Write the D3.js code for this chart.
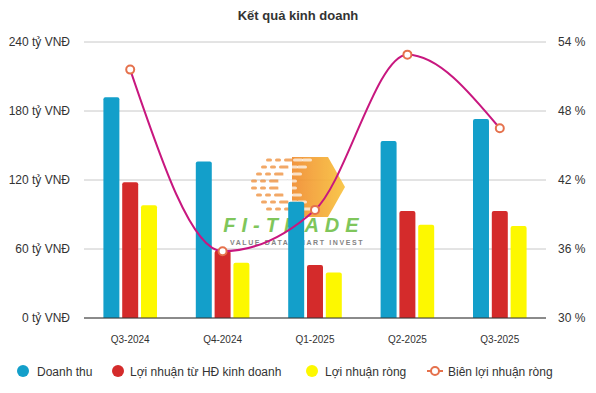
<!DOCTYPE html>
<html>
<head>
<meta charset="utf-8">
<script src="https://cdn.jsdelivr.net/npm/d3@7"></script>
<style>
  html, body { margin: 0; padding: 0; background: #fff; }
  svg { display: block; font-family: "Liberation Sans", Arial, sans-serif; }
</style>
</head>
<body>
<div id="chart"></div>
<script>
// chart data
const quarters = ["Q3-2024", "Q4-2024", "Q1-2025", "Q2-2025", "Q3-2025"];
const doanhThu = [192, 136, 101, 154, 173];
const loiNhuanHDKD = [118, 58.5, 46, 93, 93];
const loiNhuanRong = [98, 48, 39.5, 81, 80];
const bienLoiNhuan = [51.6, 35.8, 39.4, 52.9, 46.5];
const leftTicks = [0, 60, 120, 180, 240];
const rightTicks = [30, 36, 42, 48, 54];

const W = 596, H = 393;
const margin = { top: 42, right: 50, bottom: 75, left: 84 };
const plotW = W - margin.left - margin.right;
const plotH = H - margin.top - margin.bottom;

const svg = d3.select('#chart').append('svg')
  .attr('width', W).attr('height', H);

svg.append('text')
  .attr('x', W / 2).attr('y', 20)
  .attr('text-anchor', 'middle')
  .attr('font-size', 13).attr('font-weight', 'bold')
  .attr('fill', '#333')
  .text('Kết quả kinh doanh');

const g = svg.append('g').attr('transform', `translate(${margin.left},${margin.top})`);

const x = d3.scaleBand().domain(quarters).range([0, plotW]).paddingInner(0.42).paddingOuter(0.21);
const yL = d3.scaleLinear().domain([0, 240]).range([plotH, 0]);
const yR = d3.scaleLinear().domain([30, 54]).range([plotH, 0]);

// grid lines
g.append('g').selectAll('line').data(leftTicks).enter().append('line')
  .attr('x1', 0).attr('x2', plotW)
  .attr('y1', d => yL(d)).attr('y2', d => yL(d))
  .attr('stroke', '#c8c8c8').attr('stroke-width', 1);

// left axis
const axL = g.append('g').call(d3.axisLeft(yL).tickValues(leftTicks).tickSize(0).tickPadding(14)
  .tickFormat(d => d + ' tỷ VNĐ'));
axL.select('.domain').remove();
axL.selectAll('text').attr('font-size', 12).attr('fill', '#333')
  .attr('font-family', '"Liberation Sans", Arial, sans-serif');

// right axis
const axR = g.append('g').attr('transform', `translate(${plotW},0)`)
  .call(d3.axisRight(yR).tickValues(rightTicks).tickSize(0).tickPadding(12)
  .tickFormat(d => d + ' %'));
axR.select('.domain').remove();
axR.selectAll('text').attr('font-size', 12).attr('fill', '#333')
  .attr('font-family', '"Liberation Sans", Arial, sans-serif');

// watermark logo (behind bars)
const logo = g.append('g').attr('transform', `translate(${-margin.left},${-margin.top})`).attr('opacity', 0.9);
const grad = svg.append('defs').append('linearGradient').attr('id', 'og')
  .attr('x1', '0').attr('x2', '1').attr('y1', '0').attr('y2', '0');
grad.append('stop').attr('offset', '0').attr('stop-color', '#f08a2c');
grad.append('stop').attr('offset', '1').attr('stop-color', '#f9c23a');
logo.append('polygon')
  .attr('points', '292,157 328,157 345,187 328,217 292,217')
  .attr('fill', 'url(#og)');
const dashRows = [160, 167, 174, 181, 188, 195, 202, 209];
dashRows.forEach((yy, i) => {
  const start = 250 + Math.abs(i - 3.5) * 5;
  for (let k = 0; k < 5; k++) {
    logo.append('line')
      .attr('x1', start + k * 9).attr('x2', start + k * 9 + (k > 1 ? 7 : 3))
      .attr('y1', yy).attr('y2', yy)
      .attr('stroke', k > 2 ? '#ffffff' : '#ef8f3a').attr('stroke-width', 3)
      .attr('stroke-linecap', 'round').attr('opacity', k > 2 ? 0.7 : 0.85);
  }
});
logo.append('text')
  .attr('x', 294).attr('y', 232)
  .attr('text-anchor', 'middle')
  .attr('font-size', 20).attr('font-weight', 'bold').attr('font-style', 'italic')
  .attr('letter-spacing', 6)
  .attr('fill', '#72c04a')
  .text('FI-TRADE');
logo.append('text')
  .attr('x', 297).attr('y', 245)
  .attr('text-anchor', 'middle')
  .attr('font-size', 7).attr('font-weight', 'bold')
  .attr('letter-spacing', 1.6)
  .attr('fill', '#777')
  .text('VALUE DATA SMART INVEST');

// bars
const series = [
  { name: 'Doanh thu', values: doanhThu, color: '#139fca' },
  { name: 'Lợi nhuận từ HĐ kinh doanh', values: loiNhuanHDKD, color: '#d42b2b' },
  { name: 'Lợi nhuận ròng', values: loiNhuanRong, color: '#fdf800' }
];
const xSub = d3.scaleBand().domain(series.map(s => s.name)).range([0, x.bandwidth()]).paddingInner(0.15);

series.forEach(s => {
  g.append('g').selectAll('path').data(quarters).enter().append('path')
    .attr('fill', s.color)
    .attr('d', (q, i) => {
      const x0 = x(q) + xSub(s.name), w = xSub.bandwidth();
      const y0 = yL(s.values[i]), r = 2;
      return `M${x0},${plotH}V${y0 + r}Q${x0},${y0} ${x0 + r},${y0}H${x0 + w - r}Q${x0 + w},${y0} ${x0 + w},${y0 + r}V${plotH}Z`;
    });
});

// baseline
g.append('line').attr('x1', 0).attr('x2', plotW).attr('y1', plotH).attr('y2', plotH)
  .attr('stroke', '#333').attr('stroke-width', 1);

// x labels
g.append('g').selectAll('text').data(quarters).enter().append('text')
  .attr('x', d => x(d) + x.bandwidth() / 2)
  .attr('y', plotH + 25)
  .attr('text-anchor', 'middle')
  .attr('font-size', 10).attr('fill', '#333')
  .text(d => d);

// margin line
const cx = d => x(d) + x.bandwidth() / 2;
const line = d3.line()
  .x((d, i) => cx(quarters[i]))
  .y(d => yR(d))
  .curve(d3.curveMonotoneX);
g.append('path').datum(bienLoiNhuan)
  .attr('d', line)
  .attr('fill', 'none').attr('stroke', '#c8177f').attr('stroke-width', 2);
g.append('g').selectAll('circle').data(bienLoiNhuan).enter().append('circle')
  .attr('cx', (d, i) => cx(quarters[i]))
  .attr('cy', d => yR(d))
  .attr('r', 4)
  .attr('fill', '#fff').attr('stroke', '#e5714c').attr('stroke-width', 2);

// legend
const legY = 371;
const legend = svg.append('g');
const legItems = [
  { label: 'Doanh thu', color: '#139fca', cx: 23, tx: 37, type: 'dot' },
  { label: 'Lợi nhuận từ HĐ kinh doanh', color: '#d42b2b', cx: 118, tx: 130, type: 'dot' },
  { label: 'Lợi nhuận ròng', color: '#fdf800', cx: 312, tx: 325, type: 'dot' },
  { label: 'Biên lợi nhuận ròng', color: '#e5714c', cx: 435, tx: 448, type: 'line' }
];
legItems.forEach(it => {
  if (it.type === 'dot') {
    legend.append('circle').attr('cx', it.cx).attr('cy', legY).attr('r', 6).attr('fill', it.color);
  } else {
    legend.append('line').attr('x1', it.cx - 8).attr('x2', it.cx + 8).attr('y1', legY).attr('y2', legY)
      .attr('stroke', it.color).attr('stroke-width', 2);
    legend.append('circle').attr('cx', it.cx).attr('cy', legY).attr('r', 4)
      .attr('fill', '#fff').attr('stroke', it.color).attr('stroke-width', 2);
  }
  legend.append('text').attr('x', it.tx).attr('y', legY + 4.5)
    .attr('font-size', 12).attr('fill', '#333')
    .text(it.label);
});
</script>
</body>
</html>
